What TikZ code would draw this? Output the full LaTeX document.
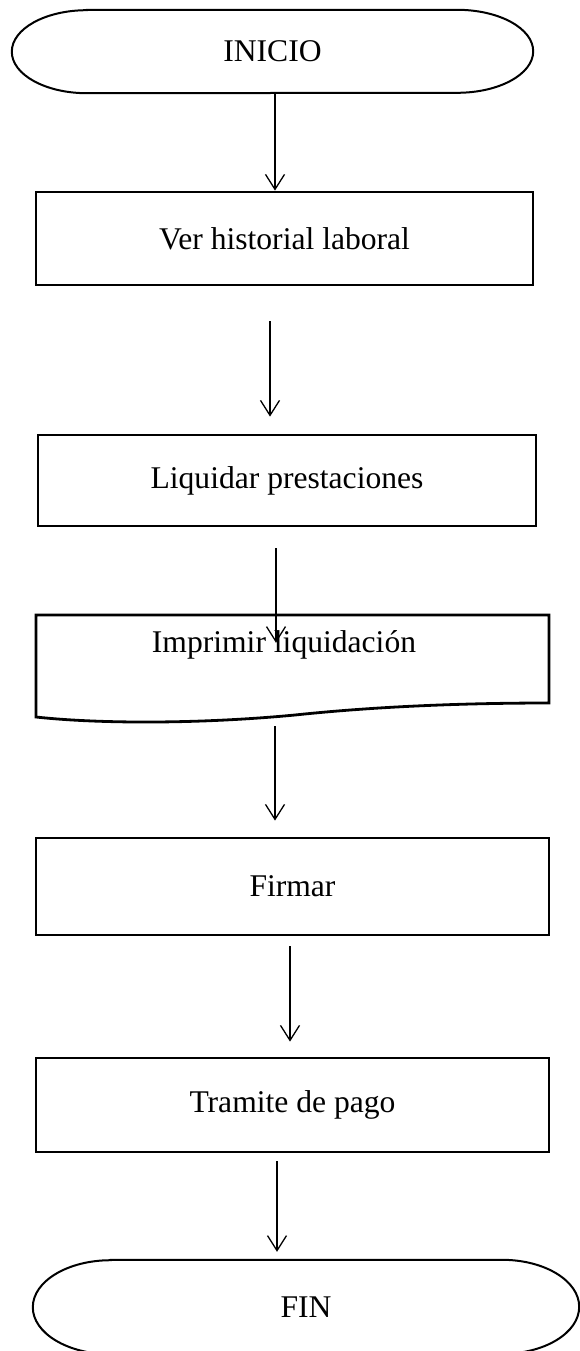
\documentclass[tikz,border=0pt]{standalone}
\usepackage{fontspec}
\setmainfont{Liberation Serif}
\usetikzlibrary{arrows.meta}

\tikzset{
    txt/.style={font=\fontsize{31.6}{38}\selectfont, inner sep=0pt},
    caja/.style={txt, draw, line width=2.8pt},
    terminal/.style={txt},
    borde/.style={line width=2pt},
    flecha/.style={line width=1.3pt, -{Straight Barb[length=15pt, width=19pt]}}
}

\begin{document}
\begin{tikzpicture}[x=1pt, y=-1pt]

    \useasboundingbox (0,0) rectangle (579,1351);

    % ==========================================
    % --- Inicio ---
    % ==========================================
    \node[terminal, minimum width=521pt, minimum height=83pt] (inicio) at (272.5,51.5) {INICIO};
    \draw[borde] ([xshift=75pt]inicio.north west) -- ([xshift=-76pt]inicio.north east)
        arc[start angle=90, end angle=-90, x radius=76pt, y radius=41.5pt]
        -- ([xshift=75pt]inicio.south west)
        arc[start angle=270, end angle=90, x radius=75pt, y radius=41.5pt] -- cycle;

    % ==========================================
    % --- Procesos ---
    % ==========================================
    \node[caja, minimum width=497pt, minimum height=93pt] (historial) at (284.5,238.5) {Ver historial laboral};
    \node[caja, minimum width=498pt, minimum height=91pt] (liquidar) at (287,480.5) {Liquidar prestaciones};

    % Documento (borde inferior ondulado)
    \node[txt, minimum width=513pt, minimum height=88pt] (imprimir) at (292.5,659) {};
    \node[txt] (imprimirtxt) at ([xshift=-8.5pt, yshift=14pt]imprimir.center) {Imprimir liquidación};
    \draw[line width=2.8pt] (36,615) -- (549,615) -- (549,703)
        .. controls (470,703) and (380,706) .. (295,715)
        .. controls (200,724) and (100,724) .. (36,717) -- cycle;

    \node[caja, minimum width=513pt, minimum height=97pt] (firmar) at (292.5,886.5) {Firmar};
    \node[caja, minimum width=513pt, minimum height=94pt] (tramite) at (292.5,1105) {Tramite de pago};

    % ==========================================
    % --- Fin (cortado por el borde inferior) ---
    % ==========================================
    \node[terminal, minimum width=546pt, minimum height=94pt] (fin) at (306,1307) {FIN};
    \draw[borde] ([xshift=78pt]fin.north west) -- ([xshift=-77pt]fin.north east)
        arc[start angle=90, end angle=-90, x radius=77pt, y radius=47pt]
        -- ([xshift=78pt]fin.south west)
        arc[start angle=270, end angle=90, x radius=78pt, y radius=47pt] -- cycle;

    % ==========================================
    % --- Flechas ---
    % ==========================================
    \draw[flecha] ([xshift=2.5pt]inicio.south) -- ([xshift=-9.5pt]historial.north);
    \draw[flecha, shorten <=35pt, shorten >=17pt] ([xshift=-14.5pt]historial.south) -- ([xshift=-17pt]liquidar.north);
    \draw[flecha, shorten <=21pt, shorten >=-28pt] ([xshift=-11pt]liquidar.south) -- ([xshift=-16.5pt]imprimir.north);
    \draw[flecha, shorten <=23pt, shorten >=16pt] ([xshift=-17.5pt]imprimir.south) -- ([xshift=-17.5pt]firmar.north);
    \draw[flecha, shorten <=10pt, shorten >=15pt] ([xshift=-2.5pt]firmar.south) -- ([xshift=-2.5pt]tramite.north);
    \draw[flecha, shorten <=8pt, shorten >=8pt] ([xshift=-15.5pt]tramite.south) -- ([xshift=-29pt]fin.north);

\end{tikzpicture}
\end{document}
